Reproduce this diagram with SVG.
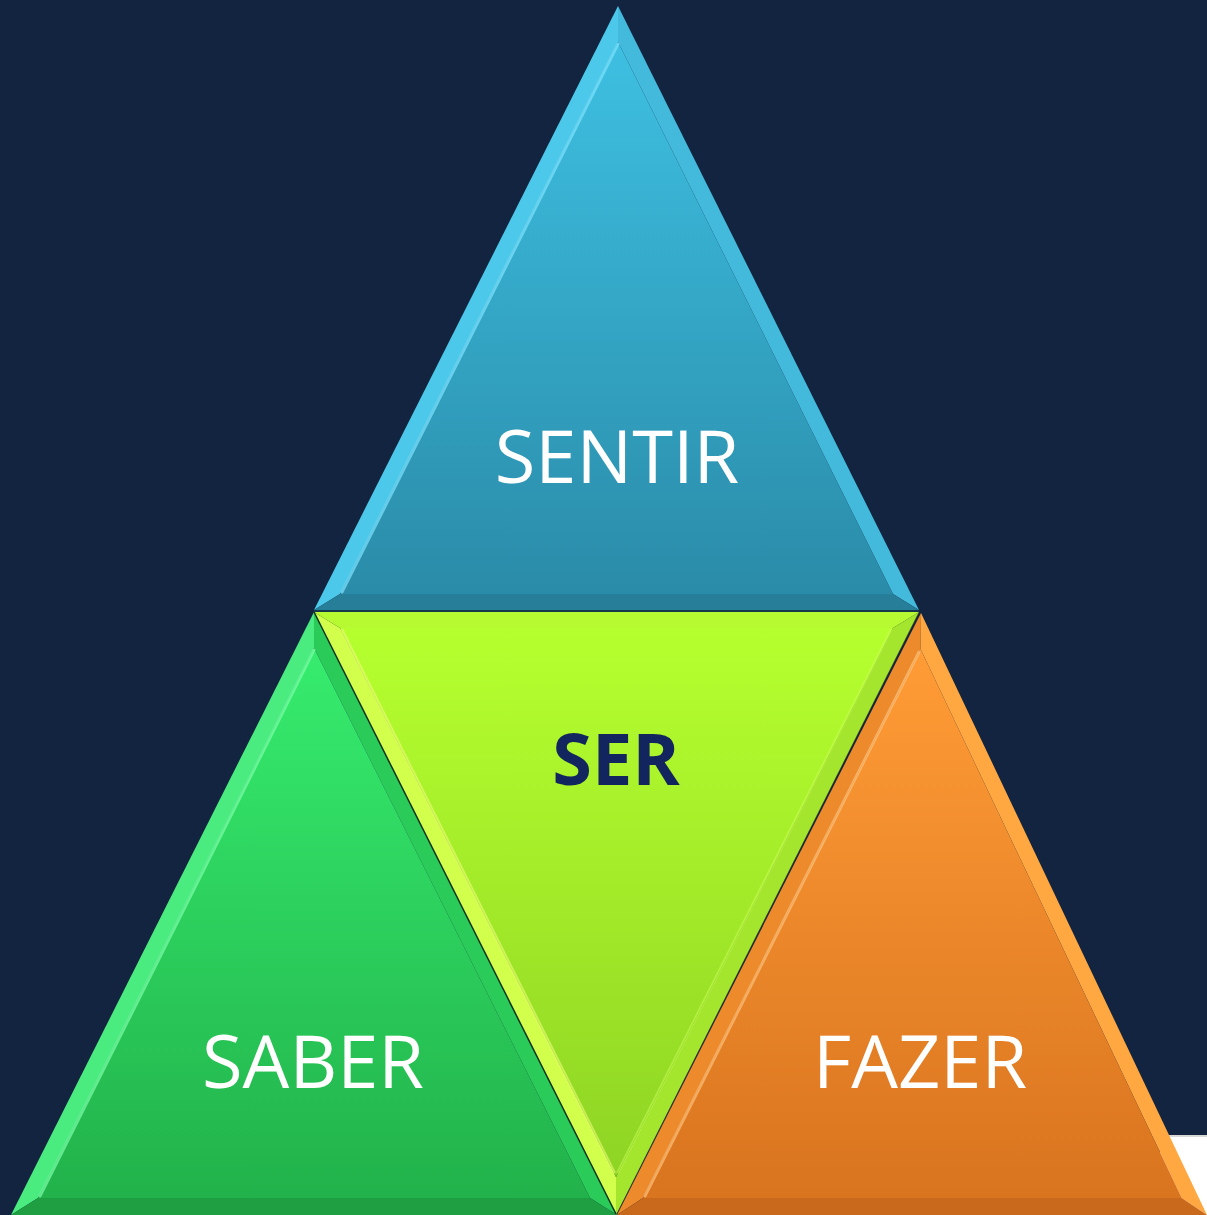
<svg xmlns="http://www.w3.org/2000/svg" width="1207" height="1215" viewBox="0 0 1207 1215">
  <style>
    .lbl { font-family: "Open Sans", "Noto Sans", "Liberation Sans", sans-serif; font-size: 74px; fill: #ffffff; text-anchor: middle; }
    .lblb { font-family: "Open Sans", "Noto Sans", "Liberation Sans", sans-serif; font-size: 72px; font-weight: bold; fill: #13255E; text-anchor: middle; }
    .hl { fill: none; stroke-width: 3; stroke-linecap: round; }
  </style>
  <defs>
    <linearGradient id="gBlue" gradientUnits="userSpaceOnUse" x1="0" y1="40" x2="0" y2="600">
      <stop offset="0" stop-color="#3EC0E2"/>
      <stop offset="1" stop-color="#2A8BA8"/>
    </linearGradient>
    <linearGradient id="gGreen" gradientUnits="userSpaceOnUse" x1="0" y1="650" x2="0" y2="1200">
      <stop offset="0" stop-color="#36EC6E"/>
      <stop offset="1" stop-color="#22B24B"/>
    </linearGradient>
    <linearGradient id="gYellow" gradientUnits="userSpaceOnUse" x1="0" y1="628" x2="0" y2="1180">
      <stop offset="0" stop-color="#B6FF2E"/>
      <stop offset="1" stop-color="#8ED424"/>
    </linearGradient>
    <linearGradient id="gOrange" gradientUnits="userSpaceOnUse" x1="0" y1="650" x2="0" y2="1200">
      <stop offset="0" stop-color="#FF9C36"/>
      <stop offset="1" stop-color="#D9741F"/>
    </linearGradient>
  </defs>

  <rect x="0" y="0" width="1207" height="1215" fill="#12243F"/>
  <rect x="1160" y="1136" width="47" height="79" fill="#ffffff"/>
  <line x1="1160" y1="1136" x2="1207" y2="1136" stroke="#d8d8d8" stroke-width="2"/>

  <g id="node-sentir">
    <polygon points="618,6 314,610 340,594 618,42" fill="#4CC8EA"/>
    <polygon points="618,6 919,610 893,594 618,42" fill="#43B9DC"/>
    <polygon points="314,610 919,610 893,594 340,594" fill="#277E99"/>
    <polygon points="618,42 340,594 893,594" fill="url(#gBlue)"/>
    <polyline class="hl" points="342,592 618,44" stroke="#7FE4FF" stroke-opacity="0.7"/>
    <text class="lbl" x="617" y="483">SENTIR</text>
  </g>

  <g id="node-ser">
    <polygon points="314,612 616,1215 616,1177 340,628" fill="#D2FF4C"/>
    <polygon points="919,612 616,1215 616,1177 893,628" fill="#A4E62E"/>
    <polygon points="314,612 919,612 893,628 340,628" fill="#B8FA32"/>
    <polygon points="340,628 893,628 616,1177" fill="url(#gYellow)"/>
    <polyline class="hl" points="342,630 614,1172" stroke="#EAFF70" stroke-opacity="0.6"/>
    <polyline class="hl" points="891,630 618,1172" stroke="#C8FF50" stroke-opacity="0.5"/>
    <text class="lblb" x="616" y="785">SER</text>
  </g>

  <g id="node-saber">
    <polygon points="314,612 11,1215 38,1198 314,648" fill="#4AEC80"/>
    <polygon points="314,612 617,1215 590,1198 314,648" fill="#2BCB5A"/>
    <polygon points="11,1215 617,1215 590,1198 38,1198" fill="#1F9E42"/>
    <polygon points="314,648 38,1198 590,1198" fill="url(#gGreen)"/>
    <polyline class="hl" points="40,1196 314,650" stroke="#7CFFA8" stroke-opacity="0.7"/>
    <text class="lbl" x="313" y="1088">SABER</text>
  </g>

  <g id="node-fazer">
    <polygon points="921,613 617,1215 643,1198 920.6,649.3" fill="#EC8A2C"/>
    <polygon points="921,613 1207,1215 1181.8,1198 920.6,649.3" fill="#FFA842"/>
    <polygon points="617,1215 1207,1215 1181.8,1198 643,1198" fill="#C9691C"/>
    <polygon points="920.6,649.3 643,1198 1181.8,1198" fill="url(#gOrange)"/>
    <polyline class="hl" points="645,1196 919,652" stroke="#FFC27A" stroke-opacity="0.7"/>
    <text class="lbl" x="920" y="1088">FAZER</text>
  </g>

  <g id="connectors">
    <line x1="314" y1="612" x2="616" y2="1214" stroke="#16331F" stroke-width="1.5"/>
    <line x1="919" y1="612" x2="617" y2="1214" stroke="#5A4A10" stroke-width="1" stroke-opacity="0.4"/>
    <line x1="314" y1="611" x2="919" y2="611" stroke="#1E5A66" stroke-width="1.5" stroke-opacity="0.5"/>
  </g>
</svg>
